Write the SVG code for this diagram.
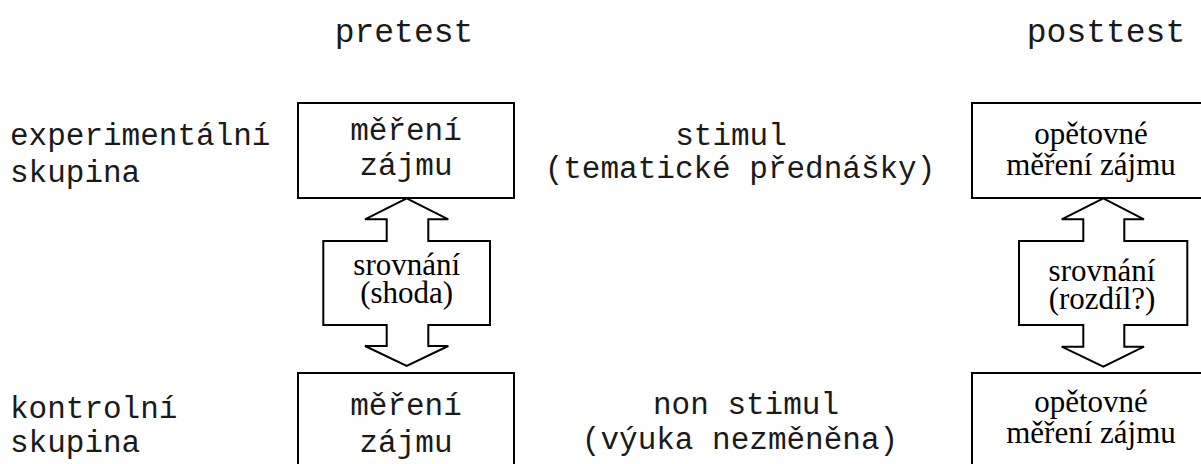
<svg xmlns="http://www.w3.org/2000/svg" width="1201" height="464" viewBox="0 0 1201 464">
<style>
.m{font-family:"Liberation Mono","Courier New",monospace;font-size:31px;fill:#1a1a1a}
.t{font-size:33px}
.s{font-family:"Liberation Serif","Times New Roman",serif;font-size:31px;fill:#000}
.c{text-anchor:middle}
.box{fill:#fff;stroke:#000;stroke-width:2}
.arr{fill:#fff;stroke:#000;stroke-width:2;stroke-linejoin:miter}
</style>
<rect width="1201" height="464" fill="#fff"/>
<g id="labels">
<text class="m t c" x="404" y="42">pretest</text>
<text class="m t c" x="1106" y="42">posttest</text>
<text class="m" x="10" y="145">experimentální</text>
<text class="m" x="10" y="182">skupina</text>
<text class="m" x="10" y="418">kontrolní</text>
<text class="m" x="10" y="452">skupina</text>
</g>
<g id="stimul">
<text class="m c" x="731" y="145">stimul</text>
<text class="m c" x="740" y="178">(tematické přednášky)</text>
</g>
<g id="nonstimul">
<text class="m c" x="746" y="414">non stimul</text>
<text class="m c" x="740" y="449">(výuka nezměněna)</text>
</g>
<g id="connectors">
<path class="arr" d="M406.7,198.3 L448.3,219.3 L428.3,219.3 L428.3,241 L490,241 L490,325 L428.3,325 L428.3,346 L448.3,346 L406.7,366 L365,346 L386.7,346 L386.7,325 L323.3,325 L323.3,241 L386.7,241 L386.7,219.3 L365,219.3 Z"/>
<text class="s c" x="406.7" y="275">srovnání</text>
<text class="s c" x="406.7" y="303">(shoda)</text>
<path class="arr" d="M1103.3,198.3 L1144,219.3 L1124.3,219.3 L1124.3,241 L1187.3,241 L1187.3,325 L1124.3,325 L1124.3,346.7 L1144,346.7 L1103.3,366.7 L1061.7,346.7 L1083.3,346.7 L1083.3,325 L1019,325 L1019,241 L1083.3,241 L1083.3,219.3 L1061.7,219.3 Z"/>
<text class="s c" x="1102" y="281">srovnání</text>
<text class="s c" x="1102" y="309">(rozdíl?)</text>
</g>
<g id="pre-exp">
<rect class="box" x="298" y="103" width="216" height="95"/>
<text class="m c" x="406" y="140">měření</text>
<text class="m c" x="406" y="175">zájmu</text>
</g>
<g id="pre-ctrl">
<rect class="box" x="298" y="373" width="216" height="110"/>
<text class="m c" x="406" y="415">měření</text>
<text class="m c" x="406" y="452">zájmu</text>
</g>
<g id="post-exp">
<rect class="box" x="972" y="103" width="262" height="95"/>
<text class="s c" x="1091" y="144">opětovné</text>
<text class="s c" x="1091" y="175">měření zájmu</text>
</g>
<g id="post-ctrl">
<rect class="box" x="972" y="373" width="262" height="110"/>
<text class="s c" x="1091" y="412">opětovné</text>
<text class="s c" x="1091" y="443">měření zájmu</text>
</g>
</svg>
